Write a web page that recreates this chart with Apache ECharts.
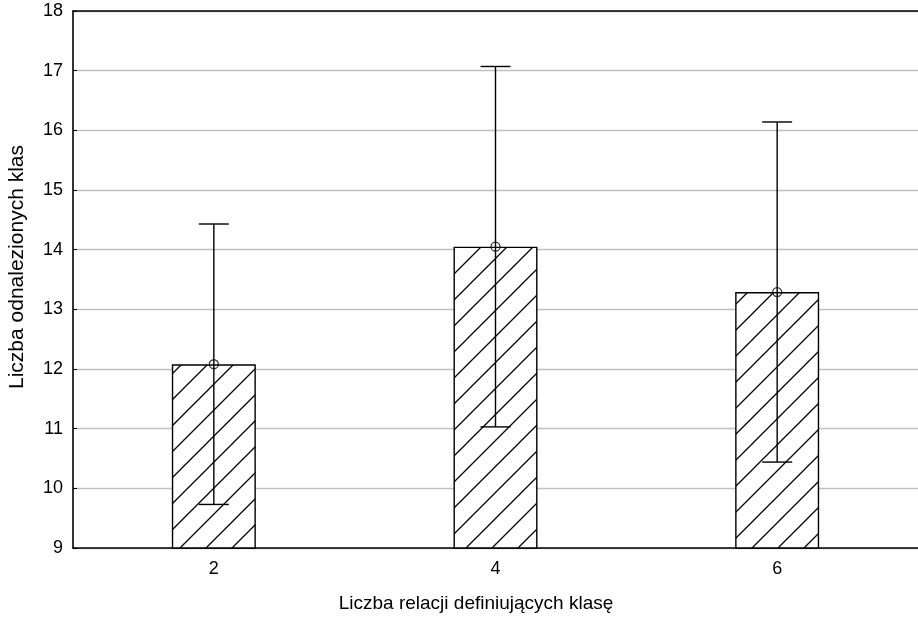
<!DOCTYPE html>
<html>
<head>
<meta charset="utf-8">
<script src="https://cdn.jsdelivr.net/npm/echarts@6/dist/echarts.min.js"></script>
<style>
  html, body { margin: 0; padding: 0; background: #fff; }
  #chart { width: 918px; height: 622px; }
</style>
</head>
<body>
<div id="chart"></div>
<script>
// Number of class-defining relations vs. number of classes found (mean ± error)
const categories = ['2', '4', '6'];
const means = [12.08, 14.05, 13.29];
const errors = [2.35, 3.02, 2.85];
const yTicks = { min: 9, max: 18, step: 1 };

// diagonal hatch fill for the bars
function hatchPattern() {
  const s = 26;
  const c = document.createElement('canvas');
  c.width = s; c.height = s;
  const g = c.getContext('2d');
  g.fillStyle = '#fff';
  g.fillRect(0, 0, s, s);
  g.strokeStyle = '#000';
  g.lineWidth = 1.3;
  g.beginPath();
  g.moveTo(-2, s + 2); g.lineTo(s + 2, -2);
  g.moveTo(-2, 2); g.lineTo(2, -2);
  g.moveTo(s - 2, s + 2); g.lineTo(s + 2, s - 2);
  g.stroke();
  return c;
}

const errData = means.map((m, i) => [i, m - errors[i], m + errors[i]]);
const font = '"Liberation Sans", Arial, sans-serif';

const chart = echarts.init(document.getElementById('chart'), null, { renderer: 'canvas' });
chart.setOption({
  animation: false,
  backgroundColor: '#fff',
  grid: { left: 73, top: 11, width: 850, height: 537, containLabel: false },
  title: {
    text: 'Liczba relacji definiujących klasę',
    left: 471, top: 589, textAlign: 'center',
    textStyle: { fontFamily: font, fontSize: 19, fontWeight: 'normal', color: '#000' }
  },
  graphic: [{
    type: 'text', x: 17, y: 267, rotation: Math.PI / 2,
    style: {
      text: 'Liczba odnalezionych klas', fontFamily: font, fontSize: 21,
      fill: '#000', textAlign: 'center', textVerticalAlign: 'middle'
    }
  }],
  xAxis: [{
    type: 'category', data: categories, boundaryGap: true,
    axisLine: { lineStyle: { color: '#000', width: 1.6 } },
    axisTick: { inside: true, length: 4, alignWithLabel: true, lineStyle: { color: '#000' } },
    axisLabel: { fontFamily: font, fontSize: 18, color: '#000', margin: 12 },
    splitLine: { show: false }
  }, {
    type: 'category', data: categories, position: 'top',
    axisLine: { lineStyle: { color: '#000', width: 1.6 } },
    axisTick: { show: false }, axisLabel: { show: false }
  }],
  yAxis: {
    type: 'value', min: yTicks.min, max: yTicks.max, interval: yTicks.step,
    axisLine: { show: true, lineStyle: { color: '#000', width: 1.6 } },
    axisTick: { show: true, inside: true, length: 4, lineStyle: { color: '#000' } },
    axisLabel: { fontFamily: font, fontSize: 18, color: '#000', margin: 10 },
    splitLine: { lineStyle: { color: '#c0c0c0', width: 1.3 } }
  },
  series: [{
    type: 'bar', data: means, barWidth: 84,
    itemStyle: {
      color: { image: hatchPattern(), repeat: 'repeat' },
      borderColor: '#000', borderWidth: 1.4
    },
    z: 2
  }, {
    type: 'custom', data: errData, z: 5,
    renderItem: function (params, api) {
      const x = api.value(0);
      const lo = api.coord([x, api.value(1)]);
      const hi = api.coord([x, api.value(2)]);
      const half = 15;
      const st = { stroke: '#000', lineWidth: 1.4 };
      return {
        type: 'group',
        children: [
          { type: 'line', shape: { x1: lo[0], y1: lo[1], x2: hi[0], y2: hi[1] }, style: st },
          { type: 'line', shape: { x1: hi[0] - half, y1: hi[1], x2: hi[0] + half, y2: hi[1] }, style: st },
          { type: 'line', shape: { x1: lo[0] - half, y1: lo[1], x2: lo[0] + half, y2: lo[1] }, style: st }
        ]
      };
    }
  }, {
    type: 'scatter', data: means, symbol: 'circle', symbolSize: 9, z: 6,
    itemStyle: { color: 'rgba(255,255,255,0)', borderColor: '#000', borderWidth: 1.3 }
  }]
});
</script>
</body>
</html>
